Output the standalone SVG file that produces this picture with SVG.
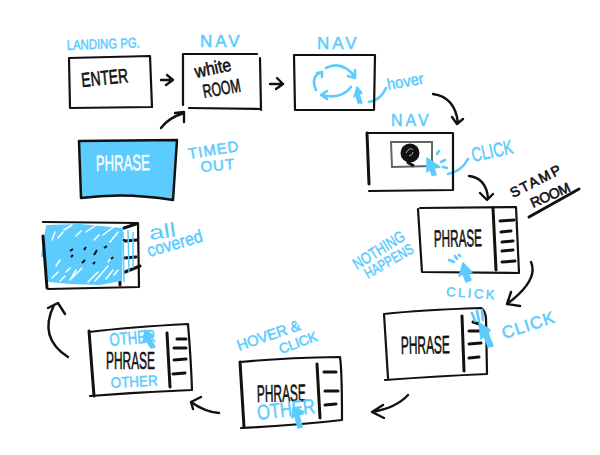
<svg xmlns="http://www.w3.org/2000/svg" width="600" height="455" viewBox="0 0 600 455">
<style>
.box{fill:none;stroke:#111;stroke-width:2.2;stroke-linecap:round;stroke-linejoin:round}
.thick{fill:none;stroke:#111;stroke-width:3;stroke-linecap:round;stroke-linejoin:round}
.conn{fill:none;stroke:#111;stroke-width:2.4;stroke-linecap:round;stroke-linejoin:round}
.bl{fill:none;stroke:#5ccbfd;stroke-width:2.6;stroke-linecap:round;stroke-linejoin:round}
.cur{fill:#5ccbfd;stroke:#5ccbfd;stroke-width:1.5;stroke-linejoin:round}
text{font-family:"Liberation Sans","DejaVu Sans",sans-serif;stroke-linejoin:round}
.b{fill:#5ccbfd;stroke:#5ccbfd;stroke-width:.5}
.k{fill:#111;stroke:#111;stroke-width:.6}
.w{fill:#fff;stroke:#fff;stroke-width:.4}
</style>
<rect width="600" height="455" fill="#fff"/>
<g id="connectors">
<path class="conn" d="M161 80L172 80M167 75L173 80L166 85"/>
<path class="conn" d="M270 84L283 84M277 78L283 84L276 89"/>
<path class="conn" d="M161 128Q168 118 184 113M175 113L184 112L184 122"/>
<path class="conn" d="M433 94Q455 97 458 123M452 117L457 124L463 119"/>
<path class="bl" d="M369 102Q381 100 386 88"/>
<path class="bl" d="M448 174Q462 171 468 159"/>
<path class="conn" d="M469 176Q486 178 488 198M480 193L487 200L493 194"/>
<path class="conn" d="M531 262Q539 280 507 304M511 292L507 304L520 306"/>
<path class="conn" d="M408 395Q396 408 372 412M383 405L372 412L384 418"/>
<path class="conn" d="M219 413Q205 412 191 402M201 397L191 402L193 409"/>
<path class="conn" d="M68 357Q38 338 54 305M48 308L58 303L65 314"/>
</g>
<g id="landing">
<path class="box" d="M69 58L150 56L152 107L70 108Z"/>
<text class="b" transform="translate(67 50) rotate(-2)" font-size="14" textLength="73" lengthAdjust="spacingAndGlyphs">LANDING PG.</text>
<text class="k" transform="translate(82 87) rotate(-6)" font-size="20" textLength="47" lengthAdjust="spacingAndGlyphs">ENTER</text>
</g>
<g id="white-room">
<path class="box" d="M183 54L257 54M260 58L261 110M261 109L189 108M183 54L183 105"/>
<text class="b" x="200" y="47" font-size="17" letter-spacing="3">NAV</text>
<text class="k" transform="translate(196 78) rotate(-12)" font-size="18" textLength="37" lengthAdjust="spacingAndGlyphs">white</text>
<text class="k" transform="translate(204 98) rotate(-10)" font-size="19" textLength="38" lengthAdjust="spacingAndGlyphs">ROOM</text>
</g>
<g id="nav-cycle">
<path class="box" d="M294 55L375 55L374 110L295 110Z"/>
<text class="b" x="317" y="49" font-size="17" letter-spacing="3">NAV</text>
<path class="bl" d="M326 68Q342 60 355 77M348 76L355 78L355 70"/>
<path class="bl" d="M316 90Q310 76 322 72M317 73L322 72L322 77"/>
<path class="bl" d="M351 87Q341 100 322 95M327 91L321 95L327 99"/>
<path class="cur" d="M357 87L362 93L359 94L362 103L358 103L356 95L354 97Z"/>
<text class="b" transform="translate(388 90) rotate(-10)" font-size="16" textLength="37" lengthAdjust="spacingAndGlyphs">hover</text>
</g>
<g id="nav-click">
<path class="box" d="M367 133L453 133L453 190L369 191"/>
<path class="thick" d="M367 133L369 184"/>
<text class="b" x="391" y="126" font-size="16" letter-spacing="3">NAV</text>
<path d="M391 142L432 142L432 166L392 167Z" fill="none" stroke="#666" stroke-width="2"/>
<circle cx="410" cy="153" r="9.500" fill="#111"/>
<path d="M407 162L414 166" stroke="#111" stroke-width="3"/>
<path d="M406 153Q410 146 413 150M409 156Q413 155 413 152" fill="none" stroke="#aaa" stroke-width="1"/>
<path class="cur" d="M427 158L440 167L434 168L436 175L432 175L430 169L427 172Z"/>
<path class="bl" d="M437 154L439 151M441 162L445 160M443 167L447 168" stroke-width="1.800"/>
<text class="b" transform="translate(473 162) rotate(-12)" font-size="20" textLength="42" lengthAdjust="spacingAndGlyphs">CLICK</text>
</g>
<g id="timed-out">
<path d="M79 141L177 140L173 200Q125 192 81 198Z" fill="#5ccbfd" stroke="#111" stroke-width="2.500" stroke-linejoin="round"/>
<text class="w" transform="translate(96 171) rotate(-1)" font-size="22" textLength="54" lengthAdjust="spacingAndGlyphs">PHRASE</text>
<text class="b" transform="translate(189 159) rotate(-9)" font-size="15" letter-spacing="1">TIMED</text>
<text class="b" transform="translate(201 172) rotate(-5)" font-size="15" letter-spacing="1">OUT</text>
</g>
<g id="stamp-room">
<path class="box" d="M418 209L422 272L519 273L516 207L420 208"/>
<path class="thick" d="M493 208L496 270M500 221L514 220M501 232L511 231M502 242L513 241M502 251L513 250M502 262L515 261"/>
<text class="k" font-size="24" transform="translate(434 247) rotate(-1)" textLength="48" lengthAdjust="spacingAndGlyphs">PHRASE</text>
<path class="thick" d="M529 217L579 189" stroke-width="2.500"/>
<text class="k" transform="translate(513 198) rotate(-27)" font-size="14" textLength="55" lengthAdjust="spacing">STAMP</text>
<text class="k" transform="translate(533 208) rotate(-24)" font-size="14" textLength="42" lengthAdjust="spacing">ROOM</text>
<text class="b" transform="translate(357 270) rotate(-32)" font-size="16" textLength="58" lengthAdjust="spacingAndGlyphs">NOTHING</text>
<text class="b" transform="translate(368 279) rotate(-30)" font-size="15" textLength="54" lengthAdjust="spacingAndGlyphs">HAPPENS</text>
<path class="cur" d="M463 263L472 272L468 273L471 280L466 282L463 274L459 276Z"/>
<path class="bl" d="M449 260L454 262M455 256L457 259M459 255L460 256" stroke-width="1.800"/>
<text class="b" transform="translate(446 296) rotate(4)" font-size="13" letter-spacing="2.500">CLICK</text>
</g>
<g id="click-menu">
<path class="box" d="M384 314Q420 310 481 308Q485 310 486 318L487 374Q440 376 385 380M384 314L388 378"/>
<path class="thick" d="M462 316L464 371M469 331L479 331M469 344L481 343M469 358L479 357M473 322L479 324"/>
<text class="k" font-size="25" transform="translate(401 354) rotate(-1)" textLength="49" lengthAdjust="spacingAndGlyphs">PHRASE</text>
<path class="cur" d="M479 323L490 330L488 333L493 346L488 347L484 336L481 339Z"/>
<path class="bl" d="M472 313L475 321M477 311L479 321M482 310L483 320" stroke-width="2"/>
<text class="b" transform="translate(504 339) rotate(-18)" font-size="17" letter-spacing="1">CLICK</text>
</g>
<g id="hover-click">
<path class="box" d="M240 362Q280 358 340 357Q342 370 342 420Q300 425 241 428"/>
<path class="thick" d="M240 362L244 427M317 364L320 418M324 372L336 372M325 391L338 391M325 405L336 404"/>
<text class="k" font-size="24" transform="translate(257 402) rotate(-1)" textLength="49" lengthAdjust="spacingAndGlyphs">PHRASE</text>
<text class="b" transform="translate(258 420) rotate(-7)" font-size="21" textLength="58" lengthAdjust="spacingAndGlyphs">OTHER</text>
<path class="cur" d="M293 407L304 412L299 415L302 427L298 428L295 416L292 418Z"/>
<text class="b" transform="translate(239 351) rotate(-19)" font-size="15" textLength="66">HOVER &amp;</text>
<text class="b" transform="translate(281 354) rotate(-20)" font-size="14" textLength="40">CLICK</text>
</g>
<g id="other-other">
<path class="box" d="M89 332Q130 327 188 324Q191 360 192 390Q140 392 90 396"/>
<path class="thick" d="M89 331L94 396M167 333L170 387M177 339L186 339M174 348L186 348M174 360L186 359M173 374L185 373"/>
<text class="k" font-size="24" transform="translate(106 369)" textLength="49" lengthAdjust="spacingAndGlyphs">PHRASE</text>
<text class="b" transform="translate(110 346) rotate(-5)" font-size="18" textLength="46" lengthAdjust="spacingAndGlyphs">OTHER</text>
<text class="b" transform="translate(111 388) rotate(-3)" font-size="15" textLength="47" lengthAdjust="spacingAndGlyphs">OTHER</text>
<path class="cur" d="M145 330L154 336L150 338L155 347L151 348L146 340L143 342Z"/>
</g>
<g id="all-covered">
<path class="box" d="M43 222L138 223L139 287L48 289"/>
<path class="thick" d="M119 236L120 285M124 228L136 224M125 241L137 240M124 258L136 257M125 272L140 266"/>
<path d="M47 226L80 225L122 229L121 280L100 284L70 283L49 281L46 255L42 256Z" fill="#5ccbfd" stroke="#5ccbfd" stroke-width="2" stroke-linejoin="round"/>
<path class="thick" d="M43 236L47 288"/>
<path d="M64 230L72 225M86 232L96 225M103 235L115 226M52 278L58 272M70 280L76 270M88 282L98 272M106 279L113 270M52 240L55 232M72 278L82 268M110 242L118 232M95 281L108 266M60 281L65 276M58 238L63 232M76 236L81 231M94 240L99 235M56 266L60 260M108 262L112 257M114 275L118 270M66 272L70 268" fill="none" stroke="#fff" stroke-width="1.500" stroke-linecap="round"/>
<path d="M123 232L124 282M128 230L129 272M133 232L133 268" fill="none" stroke="#5ccbfd" stroke-width="1.500"/>
<path d="M70 251L73 249M71 257L73 255M84 250L86 247M94 255L97 250M82 263L85 260M104 248L107 246M111 259L113 257M123 240L125 240M93 264L95 262" stroke="#111" stroke-width="2"/>
<text class="b" transform="translate(150 240) rotate(-8)" font-size="20" textLength="27" lengthAdjust="spacingAndGlyphs" style="stroke-width:0">all</text>
<text class="b" transform="translate(149 257) rotate(-16)" font-size="18" textLength="57" lengthAdjust="spacingAndGlyphs">covered</text>
</g>
</svg>
